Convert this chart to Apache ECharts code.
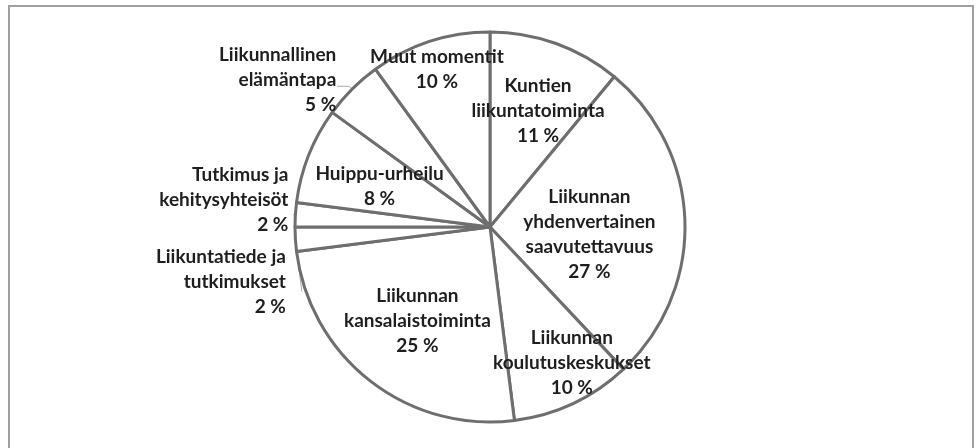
<!DOCTYPE html>
<html>
<head>
<meta charset="utf-8">
<script src="https://cdn.jsdelivr.net/npm/echarts@6/dist/echarts.min.js"></script>
<style>
  body { margin: 0; background: #fff; }
  #frame { position: absolute; left: 8px; top: 5px; width: 962px; height: 470px; border: 2px solid #9f9f9f; border-bottom: none; }
  #main { position: absolute; left: 0; top: 0; width: 976px; height: 448px; }
</style>
</head>
<body>
<div id="frame"></div>
<div id="main"></div>
<script>
const names = [
  'Kuntien\nliikuntatoiminta',
  'Liikunnan\nyhdenvertainen\nsaavutettavuus',
  'Liikunnan\nkoulutuskeskukset',
  'Liikunnan\nkansalaistoiminta',
  'Liikuntatiede ja\ntutkimukset',
  'Tutkimus ja\nkehitysyhteisöt',
  'Huippu-urheilu',
  'Liikunnallinen\nelämäntapa',
  'Muut momentit'
]
const values = [11, 27, 10, 25, 2, 2, 8, 5, 10]
const outside = [false, false, false, false, true, true, false, true, false]
// label nudges (px) away from the library's default spot
const nudges = [
  [14, -22], [-1, 11], [39, 45], [-11, 14], [-11, -10], [0, -15], [-17, -4], [4, -6], [-22, -62]
]
const leaders = [null, null, null, null, [3, 6], [2, 5], null, [4, 12], null]

let chart = echarts.init(document.getElementById('main'))

let data = names.map((n, i) => ({
  name: n,
  value: values[i],
  label: outside[i]
    ? { position: 'outside' }
    : { position: 'inside' },
  labelLine: outside[i]
    ? { show: true, length: leaders[i][0], length2: leaders[i][1] }
    : { show: false }
}))

let option = {
  animation: false,
  series: [
    {
      type: 'pie',
      center: [490, 227],
      radius: 195,
      startAngle: 90,
      clockwise: true,
      data: data,
      itemStyle: {
        color: '#fff',
        borderColor: '#6e6e6e',
        borderWidth: 3
      },
      label: {
        formatter: '{b}\n{c} %',
        color: '#1e1e1e',
        fontFamily: 'Lato',
        fontWeight: 'bold',
        fontSize: 19,
        lineHeight: 25,
        align: 'center'
      },
      labelLine: {
        lineStyle: { color: '#aaa', width: 1 }
      },
      emphasis: { disabled: true }
    }
  ]
}

option.series[0].labelLayout = function (params) {
  let d = nudges[params.dataIndex]
  return { dx: d[0], dy: d[1] }
}

chart.setOption(option)
</script>
</body>
</html>
